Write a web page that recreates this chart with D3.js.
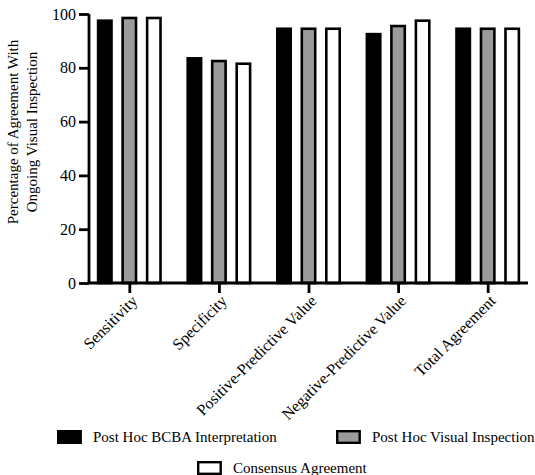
<!DOCTYPE html>
<html><head><meta charset="utf-8">
<script src="https://cdn.jsdelivr.net/npm/d3@7"></script>
<style>body{margin:0;background:#fff}svg{display:block}</style>
</head><body><svg id="c" width="535" height="475"></svg>
<script>
const categories = ["Sensitivity","Specificity","Positive-Predictive Value","Negative-Predictive Value","Total Agreement"];
const seriesNames = ["Post Hoc BCBA Interpretation","Post Hoc Visual Inspection","Consensus Agreement"];
const bcba = [98, 84, 95, 93, 95];
const visual = [99, 83, 95, 96, 95];
const consensus = [99, 82, 95, 98, 95];
const yTicks = [0, 20, 40, 60, 80, 100];
const fills = ["#000000", "#9b9b9b", "#ffffff"];
const seriesValues = [bcba, visual, consensus];
const FONT = '"Liberation Serif"';
const FS = 15;

const svg = d3.select("#c");
const x0 = 89, x1 = 528, yTop = 14, yBot = 283;
const x = d3.scalePoint().domain(categories).range([x0, x1]).padding(0.45);
const xs = d3.scaleBand().domain(seriesNames).range([-36.75, 36.75]).paddingInner(0.347).paddingOuter(0.1735);
const y = d3.scaleLinear().domain([0, 100]).range([yBot, yTop]);
const sw = 2.6;

const g = svg.append("g");
seriesNames.forEach((s, si) => {
  g.selectAll(null).data(categories).enter().append("rect")
    .attr("x", c => x(c) + xs(s) + sw/2)
    .attr("width", xs.bandwidth() - sw)
    .attr("y", (c, i) => y(seriesValues[si][i]) + sw/2)
    .attr("height", (c, i) => yBot - y(seriesValues[si][i]) - sw/2)
    .attr("fill", fills[si]).attr("stroke", "#000").attr("stroke-width", sw);
});

// y axis
const ya = svg.append("g").attr("transform", `translate(${x0},0)`)
  .call(d3.axisLeft(y).tickValues(yTicks).tickSize(10).tickPadding(3));
ya.select(".domain").attr("d", `M0,${yTop}V${yBot}`).attr("stroke-width", 2.8);
ya.selectAll(".tick line").attr("stroke-width", 2.8);
ya.selectAll(".tick text").style("font-size", "16px").style("font-family", FONT).attr("fill", "#000");

// x axis
const xa = svg.append("g").attr("transform", `translate(0,${yBot})`)
  .call(d3.axisBottom(x).tickSize(10).tickFormat(""));
xa.select(".domain").attr("d", `M${x0 - 1.4},0H${x1}`).attr("stroke-width", 2.8);
xa.selectAll(".tick line").attr("stroke-width", 2.8);

svg.append("g").selectAll("text").data(categories).enter().append("text")
  .attr("transform", c => `translate(${x(c) + 5},${yBot + 15}) rotate(-45)`)
  .attr("text-anchor", "end").attr("dy", "0.35em")
  .style("font-size", "16px").style("font-family", FONT).text(c => c);

// y title
const yt = svg.append("text").attr("transform", "translate(18,132) rotate(-90)")
  .attr("text-anchor", "middle").style("font-size", FS + "px").style("font-family", FONT);
yt.append("tspan").attr("x", 0).attr("dy", 0).text("Percentage of Agreement With");
yt.append("tspan").attr("x", 0).attr("dy", 19).text("Ongoing Visual Inspection");

// legend
const legendPos = [[57, 437], [336, 437], [197, 468]];
seriesNames.forEach((s, i) => {
  const [lx, ly] = legendPos[i];
  svg.append("rect").attr("x", lx + 1.2).attr("y", ly - 5.8).attr("width", 22.5).attr("height", 11.6)
    .attr("fill", fills[i]).attr("stroke", "#000").attr("stroke-width", 2.4);
  svg.append("text").attr("x", lx + 36).attr("y", ly).attr("dy", "0.35em")
    .style("font-size", FS + "px").style("font-family", FONT).text(s);
});
</script></body></html>
